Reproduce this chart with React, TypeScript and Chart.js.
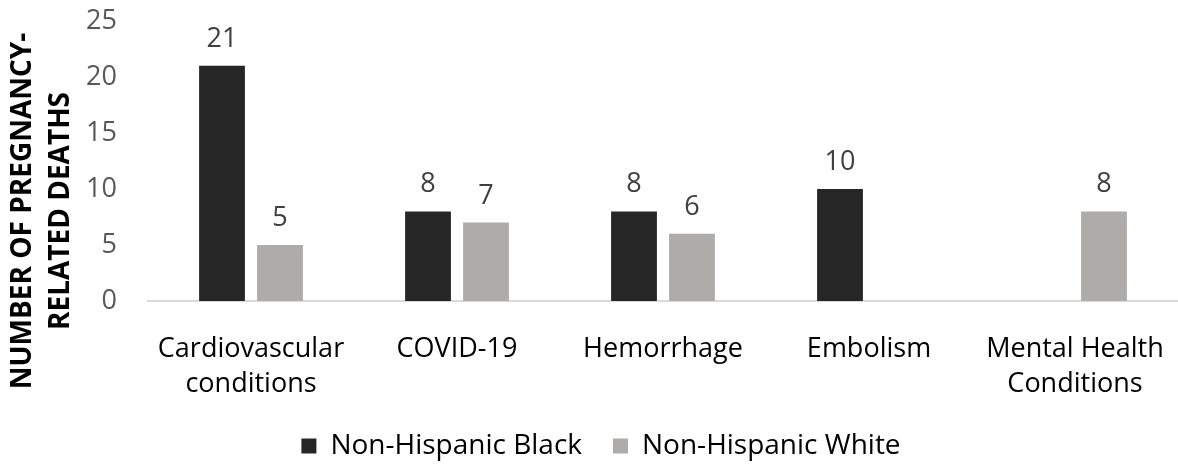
import React, { useEffect, useRef } from "react";
import { Chart, registerables } from "chart.js";

Chart.register(...registerables);

const categories: (string | string[])[] = [
  ["Cardiovascular", "conditions"],
  "COVID-19",
  "Hemorrhage",
  "Embolism",
  ["Mental Health", "Conditions"],
];
const blackDeaths: (number | null)[] = [21, 8, 8, 10, null];
const whiteDeaths: (number | null)[] = [5, 7, 6, null, 8];
const seriesNames = ["Non-Hispanic Black", "Non-Hispanic White"];
const yTitleLines = ["NUMBER OF PREGNANCY-", "RELATED DEATHS"];

const FONT = "'Open Sans', 'Noto Sans', sans-serif";
const FONT_SIZE = 27;

const valueLabels = {
  id: "valueLabels",
  afterDatasetsDraw(chart: any) {
    const ctx = chart.ctx;
    ctx.save();
    ctx.font = `${FONT_SIZE}px ${FONT}`;
    ctx.fillStyle = "#404040";
    ctx.textAlign = "center";
    ctx.textBaseline = "alphabetic";
    chart.data.datasets.forEach((ds: any, i: number) => {
      const meta = chart.getDatasetMeta(i);
      meta.data.forEach((bar: any, j: number) => {
        const v = ds.data[j];
        if (v === null || v === undefined) return;
        ctx.fillText(String(v), bar.x, bar.y - 19);
      });
    });
    ctx.restore();
  },
};

const yTitle = {
  id: "yTitle",
  afterDraw(chart: any) {
    const ctx = chart.ctx;
    ctx.save();
    ctx.font = `bold 28px ${FONT}`;
    ctx.fillStyle = "#000000";
    ctx.textAlign = "center";
    ctx.textBaseline = "middle";
    const xs = [23, 61];
    yTitleLines.forEach((line, i) => {
      ctx.save();
      ctx.translate(xs[i], 211);
      ctx.rotate(-Math.PI / 2);
      ctx.fillText(line, 0, 0);
      ctx.restore();
    });
    ctx.restore();
  },
};

export default function App() {
  const ref = useRef<HTMLCanvasElement | null>(null);

  useEffect(() => {
    if (!ref.current) return;
    const chart = new Chart(ref.current, {
      type: "bar",
      data: {
        labels: categories,
        datasets: [
          {
            label: seriesNames[0],
            data: blackDeaths,
            backgroundColor: "#262626",
            borderWidth: 0,
          },
          {
            label: seriesNames[1],
            data: whiteDeaths,
            backgroundColor: "#AEABAB",
            borderWidth: 0,
          },
        ],
      },
      options: {
        animation: false,
        responsive: false,
        maintainAspectRatio: false,
        datasets: {
          bar: { categoryPercentage: 0.563, barPercentage: 0.79 },
        },
        layout: { padding: { top: 21, right: 0, bottom: -5, left: 24 } },
        plugins: {
          legend: {
            position: "bottom",
            labels: {
              boxWidth: 15,
              boxHeight: 15,
              padding: 31,
              color: "#000000",
              font: { family: FONT, size: 28 },
            },
          },
          tooltip: { enabled: false },
        },
        scales: {
          x: {
            grid: { display: false, drawTicks: false },
            border: { display: true, color: "#D9D9D9", width: 2 },
            ticks: {
              color: "#000000",
              font: { family: FONT, size: FONT_SIZE, lineHeight: 1.3 },
              padding: 31,
              maxRotation: 0,
              autoSkip: false,
            },
            afterFit(scale: any) {
              scale.height = 100;
              scale.paddingLeft = 0;
              scale.paddingRight = 0;
            },
          },
          y: {
            min: 0,
            max: 25,
            grid: { display: false, drawTicks: false },
            border: { display: false },
            ticks: {
              stepSize: 5,
              color: "#595959",
              font: { family: FONT, size: FONT_SIZE },
              padding: 31,
            },
            afterFit(scale: any) {
              scale.width = 124;
              scale.paddingTop = 0;
              scale.paddingBottom = 0;
            },
          },
        },
      },
      plugins: [valueLabels, yTitle],
    });
    return () => chart.destroy();
  }, []);

  return (
    <div style={{ position: "absolute", left: 0, top: 0, width: 1178, height: 465, background: "#fff" }}>
      <canvas ref={ref} width={1178} height={465} style={{ width: 1178, height: 465 }} />
    </div>
  );
}
